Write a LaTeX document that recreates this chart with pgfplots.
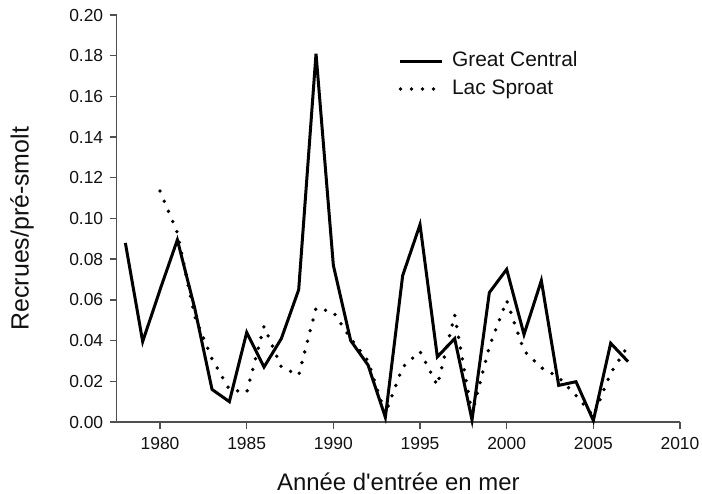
\documentclass[border=0pt]{standalone}
\usepackage{pgfplots}
\pgfplotsset{compat=1.18}
\usepackage{fontspec}
\setmainfont{Liberation Sans}
\definecolor{axgray}{HTML}{505050}
\definecolor{txt}{HTML}{111111}
\begin{document}
\begin{tikzpicture}
\path[use as bounding box] (-116.7bp,-72bp) rectangle (585.3bp,422bp);
\begin{axis}[
  at={(0,0)}, anchor=south west,
  scale only axis, width=563.3bp, height=407bp,
  xmin=1977.5, xmax=2010, ymin=0, ymax=0.20,
  axis lines*=left,
  axis line style={axgray, line width=1.4bp},
  tick style={axgray, line width=1.4bp},
  tick align=outside, major tick length=7bp,
  xtick={1980,1985,...,2010},
  ytick={0,0.02,...,0.201},
  /pgf/number format/assume math mode=true,
  x tick label style={/pgf/number format/set thousands separator={}, /pgf/number format/fixed},
  y tick label style={/pgf/number format/fixed, /pgf/number format/fixed zerofill, /pgf/number format/precision=2},
  tick label style={font=\fontsize{17.5}{20}\selectfont, text=txt},
  xticklabel style={yshift=-5bp},
  yticklabel style={xshift=-3bp},
  xlabel={Année d\textquotesingle entrée en mer},
  ylabel={Recrues/pré-smolt},
  xlabel style={at={(axis description cs:0.5,-0.147)}, anchor=center, font=\fontsize{24}{27}\selectfont, text=txt},
  ylabel style={at={(axis description cs:-0.168,0.475)}, anchor=center, rotate=0, font=\fontsize{25}{28}\selectfont, text=txt},
  legend style={at={(axis description cs:0.5,0.912)}, anchor=north west, draw=none, fill=none,
    font=\fontsize{21}{24}\selectfont, text=txt, inner sep=0pt, row sep=8bp, column sep=8bp,
    nodes={inner sep=0pt, text height=15bp, text depth=5bp}},
  legend cell align=left,
  legend image code/.code={\draw[mark repeat=2,mark phase=2] plot coordinates {(0bp,0bp) (21bp,0bp) (41.7bp,0bp)};},
  clip=false,
]
\addplot[black, line width=3bp, line join=miter] coordinates {
(1978,0.088) (1979,0.0395) (1980,0.065) (1981,0.0895) (1982,0.056) (1983,0.016)
(1984,0.010) (1985,0.044) (1986,0.027) (1987,0.041) (1988,0.065) (1989,0.181)
(1990,0.077) (1991,0.040) (1992,0.028) (1993,0.0023) (1994,0.072) (1995,0.097)
(1996,0.032) (1997,0.041) (1998,0.001) (1999,0.0636) (2000,0.075) (2001,0.043)
(2002,0.0695) (2003,0.018) (2004,0.0198) (2005,0.0007) (2006,0.0387) (2007,0.0297)
};
\addlegendentry{Great Central}
\addplot[black, line width=3.8bp, line cap=round, dash pattern=on 0bp off 11bp] coordinates {
(1980,0.1135) (1981,0.093) (1982,0.052) (1983,0.031) (1984,0.016) (1985,0.0145)
(1986,0.047) (1987,0.027) (1988,0.023) (1989,0.056) (1990,0.054) (1991,0.041)
(1992,0.030) (1993,0.004) (1994,0.027) (1995,0.0346) (1996,0.018) (1997,0.0526)
(1998,0.004) (1999,0.037) (2000,0.0597) (2001,0.035) (2002,0.0267) (2003,0.022)
(2004,0.013) (2005,0.003) (2006,0.024) (2007,0.0374)
};
\addlegendentry{Lac Sproat}
\end{axis}
\end{tikzpicture}
\end{document}
